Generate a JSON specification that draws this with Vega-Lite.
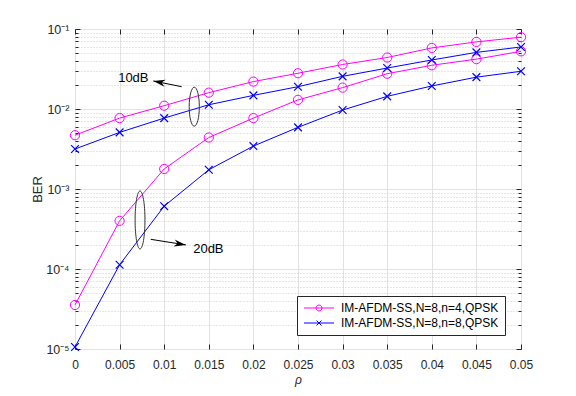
{
  "$schema": "https://vega.github.io/schema/vega-lite/v6.json",
  "width": 446,
  "height": 320,
  "autosize": "none",
  "padding": {"left": 75, "top": 29, "right": 55, "bottom": 47},
  "background": "white",
  "config": {
    "font": "Liberation Sans",
    "view": {"stroke": "#262626", "strokeWidth": 1},
    "axis": {"labelColor": "#262626", "tickColor": "#262626", "titleColor": "#262626", "labelFontSize": 12, "titleFontSize": 13, "titleFontWeight": "normal", "domain": false, "labelFlush": false}
  },
  "datasets": {
    "ber": [
      {"rho": 0, "ber": 0.0047, "series": "IM-AFDM-SS,N=8,n=4,QPSK", "snr": "10dB"},
      {"rho": 0.005, "ber": 0.0077, "series": "IM-AFDM-SS,N=8,n=4,QPSK", "snr": "10dB"},
      {"rho": 0.01, "ber": 0.011, "series": "IM-AFDM-SS,N=8,n=4,QPSK", "snr": "10dB"},
      {"rho": 0.015, "ber": 0.016, "series": "IM-AFDM-SS,N=8,n=4,QPSK", "snr": "10dB"},
      {"rho": 0.02, "ber": 0.022, "series": "IM-AFDM-SS,N=8,n=4,QPSK", "snr": "10dB"},
      {"rho": 0.025, "ber": 0.028, "series": "IM-AFDM-SS,N=8,n=4,QPSK", "snr": "10dB"},
      {"rho": 0.03, "ber": 0.036, "series": "IM-AFDM-SS,N=8,n=4,QPSK", "snr": "10dB"},
      {"rho": 0.035, "ber": 0.044, "series": "IM-AFDM-SS,N=8,n=4,QPSK", "snr": "10dB"},
      {"rho": 0.04, "ber": 0.058, "series": "IM-AFDM-SS,N=8,n=4,QPSK", "snr": "10dB"},
      {"rho": 0.045, "ber": 0.069, "series": "IM-AFDM-SS,N=8,n=4,QPSK", "snr": "10dB"},
      {"rho": 0.05, "ber": 0.079, "series": "IM-AFDM-SS,N=8,n=4,QPSK", "snr": "10dB"},
      {"rho": 0, "ber": 0.00316, "series": "IM-AFDM-SS,N=8,n=8,QPSK", "snr": "10dB"},
      {"rho": 0.005, "ber": 0.0051, "series": "IM-AFDM-SS,N=8,n=8,QPSK", "snr": "10dB"},
      {"rho": 0.01, "ber": 0.0077, "series": "IM-AFDM-SS,N=8,n=8,QPSK", "snr": "10dB"},
      {"rho": 0.015, "ber": 0.0113, "series": "IM-AFDM-SS,N=8,n=8,QPSK", "snr": "10dB"},
      {"rho": 0.02, "ber": 0.0148, "series": "IM-AFDM-SS,N=8,n=8,QPSK", "snr": "10dB"},
      {"rho": 0.025, "ber": 0.019, "series": "IM-AFDM-SS,N=8,n=8,QPSK", "snr": "10dB"},
      {"rho": 0.03, "ber": 0.0256, "series": "IM-AFDM-SS,N=8,n=8,QPSK", "snr": "10dB"},
      {"rho": 0.035, "ber": 0.0325, "series": "IM-AFDM-SS,N=8,n=8,QPSK", "snr": "10dB"},
      {"rho": 0.04, "ber": 0.041, "series": "IM-AFDM-SS,N=8,n=8,QPSK", "snr": "10dB"},
      {"rho": 0.045, "ber": 0.051, "series": "IM-AFDM-SS,N=8,n=8,QPSK", "snr": "10dB"},
      {"rho": 0.05, "ber": 0.0596, "series": "IM-AFDM-SS,N=8,n=8,QPSK", "snr": "10dB"},
      {"rho": 0, "ber": 0.0000355, "series": "IM-AFDM-SS,N=8,n=4,QPSK", "snr": "20dB"},
      {"rho": 0.005, "ber": 0.0004, "series": "IM-AFDM-SS,N=8,n=4,QPSK", "snr": "20dB"},
      {"rho": 0.01, "ber": 0.00178, "series": "IM-AFDM-SS,N=8,n=4,QPSK", "snr": "20dB"},
      {"rho": 0.015, "ber": 0.0044, "series": "IM-AFDM-SS,N=8,n=4,QPSK", "snr": "20dB"},
      {"rho": 0.02, "ber": 0.0077, "series": "IM-AFDM-SS,N=8,n=4,QPSK", "snr": "20dB"},
      {"rho": 0.025, "ber": 0.013, "series": "IM-AFDM-SS,N=8,n=4,QPSK", "snr": "20dB"},
      {"rho": 0.03, "ber": 0.0185, "series": "IM-AFDM-SS,N=8,n=4,QPSK", "snr": "20dB"},
      {"rho": 0.035, "ber": 0.0276, "series": "IM-AFDM-SS,N=8,n=4,QPSK", "snr": "20dB"},
      {"rho": 0.04, "ber": 0.0352, "series": "IM-AFDM-SS,N=8,n=4,QPSK", "snr": "20dB"},
      {"rho": 0.045, "ber": 0.042, "series": "IM-AFDM-SS,N=8,n=4,QPSK", "snr": "20dB"},
      {"rho": 0.05, "ber": 0.0526, "series": "IM-AFDM-SS,N=8,n=4,QPSK", "snr": "20dB"},
      {"rho": 0, "ber": 0.0000106, "series": "IM-AFDM-SS,N=8,n=8,QPSK", "snr": "20dB"},
      {"rho": 0.005, "ber": 0.000113, "series": "IM-AFDM-SS,N=8,n=8,QPSK", "snr": "20dB"},
      {"rho": 0.01, "ber": 0.00061, "series": "IM-AFDM-SS,N=8,n=8,QPSK", "snr": "20dB"},
      {"rho": 0.015, "ber": 0.00174, "series": "IM-AFDM-SS,N=8,n=8,QPSK", "snr": "20dB"},
      {"rho": 0.02, "ber": 0.00344, "series": "IM-AFDM-SS,N=8,n=8,QPSK", "snr": "20dB"},
      {"rho": 0.025, "ber": 0.0059, "series": "IM-AFDM-SS,N=8,n=8,QPSK", "snr": "20dB"},
      {"rho": 0.03, "ber": 0.0097, "series": "IM-AFDM-SS,N=8,n=8,QPSK", "snr": "20dB"},
      {"rho": 0.035, "ber": 0.0144, "series": "IM-AFDM-SS,N=8,n=8,QPSK", "snr": "20dB"},
      {"rho": 0.04, "ber": 0.0194, "series": "IM-AFDM-SS,N=8,n=8,QPSK", "snr": "20dB"},
      {"rho": 0.045, "ber": 0.025, "series": "IM-AFDM-SS,N=8,n=8,QPSK", "snr": "20dB"},
      {"rho": 0.05, "ber": 0.0296, "series": "IM-AFDM-SS,N=8,n=8,QPSK", "snr": "20dB"}
    ],
    "notes": [
      {"label": "10dB", "ex": 0.01337, "ey": 0.01069, "x1": 0.01196, "y1": 0.019, "x2": 0.00878, "y2": 0.0224, "tx": 0.00654, "ty": 0.0242},
      {"label": "20dB", "ex": 0.00729, "ey": 0.00041, "x1": 0.00849, "y1": 0.000235, "x2": 0.01244, "y2": 0.0002, "tx": 0.01495, "ty": 0.000178}
    ]
  },
  "layer": [
    {
      "data": {"name": "ber"},
      "mark": {"type": "point", "filled": false, "size": 100, "strokeWidth": 1, "opacity": 0},
      "encoding": {
        "x": {"field": "rho", "type": "quantitative", "scale": {"domain": [0, 0.05], "nice": false, "zero": false},
              "axis": {"orient": "bottom", "values": [0, 0.005, 0.01, 0.015, 0.02, 0.025, 0.03, 0.035, 0.04, 0.045, 0.05], "format": "~g", "grid": true, "gridColor": "#e2e2e2", "tickSize": -5, "labelPadding": 15, "title": "ρ", "titleFontStyle": "italic", "titleFontSize": 12, "titlePadding": 4}},
        "y": {"field": "ber", "type": "quantitative", "scale": {"type": "log", "domain": [0.00001, 0.1], "nice": false},
              "axis": {"orient": "left", "values": [0.00001, 0.0001, 0.001, 0.01, 0.1], "labelExpr": "datum.value < 2e-5 ? '10⁻⁵' : datum.value < 2e-4 ? '10⁻⁴' : datum.value < 2e-3 ? '10⁻³' : datum.value < 2e-2 ? '10⁻²' : '10⁻¹'", "labelFontSize": 12.5, "grid": true, "gridColor": "#e2e2e2", "tickSize": -5, "labelPadding": 11, "title": "BER", "titlePadding": 1}},
        "color": {"field": "series", "type": "nominal", "scale": {"domain": ["IM-AFDM-SS,N=8,n=4,QPSK", "IM-AFDM-SS,N=8,n=8,QPSK"], "range": ["#ff00ff", "#0000ff"]},
                  "legend": {"title": null, "orient": "none", "legendX": 222, "legendY": 267, "fillColor": "white", "strokeColor": "#262626", "padding": 6, "symbolSize": 100, "symbolStrokeWidth": 1, "symbolOpacity": 1, "labelOffset": 26, "labelFontSize": 12, "labelColor": "#000000", "rowPadding": 3}},
        "shape": {"field": "series", "type": "nominal", "scale": {"domain": ["IM-AFDM-SS,N=8,n=4,QPSK", "IM-AFDM-SS,N=8,n=8,QPSK"], "range": ["M-1,0L5,0M2.6,0A0.6,0.6 0 1,1 1.4,0A0.6,0.6 0 1,1 2.6,0", "M-1,0L5,0M1.5,-0.5L2.5,0.5M1.5,0.5L2.5,-0.5"]},
                  "legend": {"title": null, "orient": "none", "legendX": 222, "legendY": 267, "fillColor": "white", "strokeColor": "#262626", "padding": 6, "symbolSize": 100, "symbolStrokeWidth": 1, "symbolOpacity": 1, "labelOffset": 26, "labelFontSize": 12, "labelColor": "#000000", "rowPadding": 3}}
      }
    },
    {
      "data": {"name": "ber"},
      "transform": [{"filter": "datum.series === 'IM-AFDM-SS,N=8,n=4,QPSK'"}],
      "mark": {"type": "line", "strokeWidth": 1, "stroke": "#ff00ff"},
      "encoding": {
        "x": {"field": "rho", "type": "quantitative", "scale": {"domain": [0, 0.05], "nice": false, "zero": false},
              "axis": {"orient": "top", "values": [0, 0.005, 0.01, 0.015, 0.02, 0.025, 0.03, 0.035, 0.04, 0.045, 0.05], "labels": false, "grid": false, "tickSize": -5, "title": null}},
        "y": {"field": "ber", "type": "quantitative", "scale": {"type": "log", "domain": [0.00001, 0.1], "nice": false},
              "axis": {"orient": "left", "values": [0.00002, 0.00003, 0.00004, 0.00005, 0.00006, 0.00007, 0.00008, 0.00009, 0.0002, 0.0003, 0.0004, 0.0005, 0.0006, 0.0007, 0.0008, 0.0009, 0.002, 0.003, 0.004, 0.005, 0.006, 0.007, 0.008, 0.009, 0.02, 0.03, 0.04, 0.05, 0.06, 0.07, 0.08, 0.09], "labels": false, "grid": true, "gridDash": [1, 2], "gridColor": "#cccccc", "tickSize": -3, "title": null}},
        "detail": {"field": "snr"}
      }
    },
    {
      "data": {"name": "ber"},
      "transform": [{"filter": "datum.series === 'IM-AFDM-SS,N=8,n=8,QPSK'"}],
      "mark": {"type": "line", "strokeWidth": 1, "stroke": "#0000ff"},
      "encoding": {
        "x": {"field": "rho", "type": "quantitative", "scale": {"domain": [0, 0.05], "nice": false, "zero": false}, "axis": null},
        "y": {"field": "ber", "type": "quantitative", "scale": {"type": "log", "domain": [0.00001, 0.1], "nice": false},
              "axis": {"orient": "right", "values": [0.00001, 0.0001, 0.001, 0.01, 0.1], "labels": false, "grid": false, "tickSize": -5, "title": null}},
        "detail": {"field": "snr"}
      }
    },
    {
      "data": {"name": "ber"},
      "transform": [{"filter": "datum.series === 'IM-AFDM-SS,N=8,n=4,QPSK'"}],
      "mark": {"type": "point", "shape": "circle", "filled": false, "size": 85, "strokeWidth": 1, "stroke": "#ff00ff", "opacity": 1},
      "encoding": {
        "x": {"field": "rho", "type": "quantitative", "scale": {"domain": [0, 0.05], "nice": false, "zero": false}, "axis": null},
        "y": {"field": "ber", "type": "quantitative", "scale": {"type": "log", "domain": [0.00001, 0.1], "nice": false},
              "axis": {"orient": "right", "values": [0.00002, 0.00003, 0.00004, 0.00005, 0.00006, 0.00007, 0.00008, 0.00009, 0.0002, 0.0003, 0.0004, 0.0005, 0.0006, 0.0007, 0.0008, 0.0009, 0.002, 0.003, 0.004, 0.005, 0.006, 0.007, 0.008, 0.009, 0.02, 0.03, 0.04, 0.05, 0.06, 0.07, 0.08, 0.09], "labels": false, "grid": false, "tickSize": -3, "title": null}}
      }
    },
    {
      "data": {"name": "ber"},
      "transform": [{"filter": "datum.series === 'IM-AFDM-SS,N=8,n=8,QPSK'"}],
      "mark": {"type": "point", "shape": "M-1,-1L1,1M-1,1L1,-1", "filled": false, "size": 60, "strokeWidth": 1.2, "stroke": "#0000ff", "opacity": 1},
      "encoding": {
        "x": {"field": "rho", "type": "quantitative", "scale": {"domain": [0, 0.05], "nice": false, "zero": false}, "axis": null},
        "y": {"field": "ber", "type": "quantitative", "scale": {"type": "log", "domain": [0.00001, 0.1], "nice": false}, "axis": null}
      }
    },
    {
      "data": {"name": "notes"},
      "transform": [{"filter": "datum.label === '10dB'"}],
      "mark": {"type": "point", "shape": "M0,-1A0.26,1 0 1,1 0,1A0.26,1 0 1,1 0,-1", "filled": false, "size": 1521, "stroke": "#333333", "strokeWidth": 1, "opacity": 1},
      "encoding": {
        "x": {"field": "ex", "type": "quantitative", "scale": {"domain": [0, 0.05], "nice": false, "zero": false}, "axis": null},
        "y": {"field": "ey", "type": "quantitative", "scale": {"type": "log", "domain": [0.00001, 0.1], "nice": false}, "axis": null}
      }
    },
    {
      "data": {"name": "notes"},
      "transform": [{"filter": "datum.label === '20dB'"}],
      "mark": {"type": "point", "shape": "M0,-1A0.17,1 0 1,1 0,1A0.17,1 0 1,1 0,-1", "filled": false, "size": 3364, "stroke": "#333333", "strokeWidth": 1, "opacity": 1},
      "encoding": {
        "x": {"field": "ex", "type": "quantitative", "scale": {"domain": [0, 0.05], "nice": false, "zero": false}, "axis": null},
        "y": {"field": "ey", "type": "quantitative", "scale": {"type": "log", "domain": [0.00001, 0.1], "nice": false}, "axis": null}
      }
    },
    {
      "data": {"name": "notes"},
      "mark": {"type": "rule", "stroke": "#000000", "strokeWidth": 1},
      "encoding": {
        "x": {"field": "x1", "type": "quantitative", "scale": {"domain": [0, 0.05], "nice": false, "zero": false}, "axis": null},
        "y": {"field": "y1", "type": "quantitative", "scale": {"type": "log", "domain": [0.00001, 0.1], "nice": false}, "axis": null},
        "x2": {"field": "x2"},
        "y2": {"field": "y2"}
      }
    },
    {
      "data": {"name": "notes"},
      "transform": [{"filter": "datum.label === '10dB'"}],
      "mark": {"type": "point", "shape": "M0,0L-2,-0.6L-1.4,0L-2,0.6Z", "filled": true, "fill": "#000000", "size": 144, "angle": 191, "opacity": 1},
      "encoding": {
        "x": {"field": "x2", "type": "quantitative", "scale": {"domain": [0, 0.05], "nice": false, "zero": false}, "axis": null},
        "y": {"field": "y2", "type": "quantitative", "scale": {"type": "log", "domain": [0.00001, 0.1], "nice": false}, "axis": null}
      }
    },
    {
      "data": {"name": "notes"},
      "transform": [{"filter": "datum.label === '20dB'"}],
      "mark": {"type": "point", "shape": "M0,0L-2,-0.6L-1.4,0L-2,0.6Z", "filled": true, "fill": "#000000", "size": 144, "angle": 9, "opacity": 1},
      "encoding": {
        "x": {"field": "x2", "type": "quantitative", "scale": {"domain": [0, 0.05], "nice": false, "zero": false}, "axis": null},
        "y": {"field": "y2", "type": "quantitative", "scale": {"type": "log", "domain": [0.00001, 0.1], "nice": false}, "axis": null}
      }
    },
    {
      "data": {"name": "notes"},
      "mark": {"type": "text", "fontSize": 13, "color": "#000000", "align": "center", "baseline": "middle"},
      "encoding": {
        "x": {"field": "tx", "type": "quantitative", "scale": {"domain": [0, 0.05], "nice": false, "zero": false}, "axis": null},
        "y": {"field": "ty", "type": "quantitative", "scale": {"type": "log", "domain": [0.00001, 0.1], "nice": false}, "axis": null},
        "text": {"field": "label"}
      }
    }
  ],
  "resolve": {"axis": {"x": "independent", "y": "independent"}}
}
